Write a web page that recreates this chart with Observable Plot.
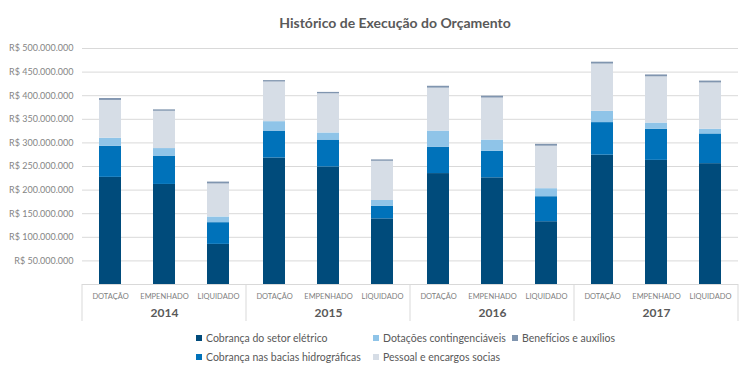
<!DOCTYPE html>
<html><head><meta charset="utf-8">
<script src="https://cdn.jsdelivr.net/npm/d3@7"></script>
<script src="https://cdn.jsdelivr.net/npm/@observablehq/plot@0.6"></script>
<style>
body{margin:0;background:#fff;font-family:Lato,sans-serif;}
#wrap{position:relative;width:748px;height:375px;overflow:hidden;}
#title{position:absolute;top:14px;left:145px;width:500px;text-align:center;font-weight:bold;font-size:14px;color:#595959;}
#chart{position:absolute;top:38px;left:0;}
.lg{position:absolute;font-size:10.5px;color:#595959;white-space:nowrap;line-height:12px;}
.sw{display:inline-block;width:6px;height:6px;margin-right:4px;vertical-align:1px;}
</style></head>
<body>
<div id="wrap">
  <div id="title">Histórico de Execução do Orçamento</div>
  <div id="chart"></div>
  <div id="legend"></div>
</div>
<script>
const years = ["2014", "2015", "2016", "2017"];
const stages = ["DOTAÇÃO", "EMPENHADO", "LIQUIDADO"];
const series = ["Cobrança do setor elétrico", "Cobrança nas bacias hidrográficas", "Dotações contingenciáveis", "Pessoal e encargos socias", "Benefícios e auxílios"];
const colors = ["#004B7B", "#0072BA", "#8FC4E8", "#D6DDE6", "#8095AF"];
// values in millions of R$, order: 2014 DOT, EMP, LIQ, 2015 ..., 2017 ...
const setorEletrico = [227, 212, 85, 268, 249, 139, 235, 226, 133, 274, 263, 256];
const baciasHidro = [66, 60, 46, 57, 57, 27, 56, 56, 53, 69, 66, 63];
const dotacoesCont = [17, 16, 12, 20, 15, 12, 34, 24, 17, 24, 13, 10];
const pessoal = [80, 79, 70, 84, 83, 83, 91, 89, 90, 100, 98, 98];
const beneficios = [4, 3, 4, 3, 3, 3, 4, 4, 4, 4, 4, 4];
const yTicks = [50e6, 100e6, 150e6, 200e6, 250e6, 300e6, 350e6, 400e6, 450e6, 500e6];

const seriesVals = [setorEletrico, baciasHidro, dotacoesCont, pessoal, beneficios];
const data = [];
years.forEach((yr, i) => stages.forEach((st, j) => {
  const k = i * 3 + j;
  seriesVals.forEach((arr, s) => data.push({year: yr, stage: st, series: series[s], value: arr[k] * 1e6}));
}));

const fmt = d => "R$ " + d3.format(",")(d).replace(/,/g, ".");

const plot = Plot.plot({
  width: 748, height: 286,
  marginLeft: 82, marginRight: 10, marginTop: 10, marginBottom: 40,
  style: {fontFamily: "Lato, sans-serif", background: "#fff"},
  fx: {domain: years, padding: 0, label: null},
  x: {domain: stages, paddingInner: 0.6, paddingOuter: 0.3, label: null},
  y: {domain: [0, 500e6], label: null},
  color: {domain: series, range: colors},
  marks: [
    Plot.gridY(yTicks, {stroke: "#d9d9d9", strokeOpacity: 1}),
    Plot.ruleY([0], {stroke: "#d9d9d9"}),
    Plot.barY(data, {fx: "year", x: "stage", y: "value", fill: "series"}),
    Plot.axisY(yTicks, {tickSize: 0, tickPadding: 9, tickFormat: fmt, fontSize: 9, fill: "#858585", label: null}),
    Plot.axisX({tickSize: 0, tickPadding: 9, fontSize: 7.5, fill: "#808080", label: null}),
    Plot.axisFx({anchor: "bottom", tickSize: 0, tickPadding: 24, fontSize: 12, fontWeight: "bold", fill: "#595959", label: null})
  ]
});
document.getElementById("chart").appendChild(plot);

// separators between year groups below the axis
const fx = plot.scale("fx"), y = plot.scale("y");
const y0 = y.apply(0);
const edges = years.map(v => fx.apply(v)).concat([fx.apply(years[years.length - 1]) + fx.bandwidth]);
d3.select(plot).append("g").selectAll("line").data(edges).join("line")
  .attr("x1", d => d).attr("x2", d => d).attr("y1", y0).attr("y2", y0 + 37)
  .attr("stroke", "#d9d9d9");

// legend
const legendPos = [[196, 332], [196, 351], [373, 332], [373, 351], [512, 332]];
const lg = document.getElementById("legend");
series.forEach((s, i) => {
  const div = document.createElement("div");
  div.className = "lg";
  div.style.left = legendPos[i][0] + "px";
  div.style.top = legendPos[i][1] + "px";
  div.innerHTML = `<span class="sw" style="background:${colors[i]}"></span>${s}`;
  lg.appendChild(div);
});
</script>
</body></html>
